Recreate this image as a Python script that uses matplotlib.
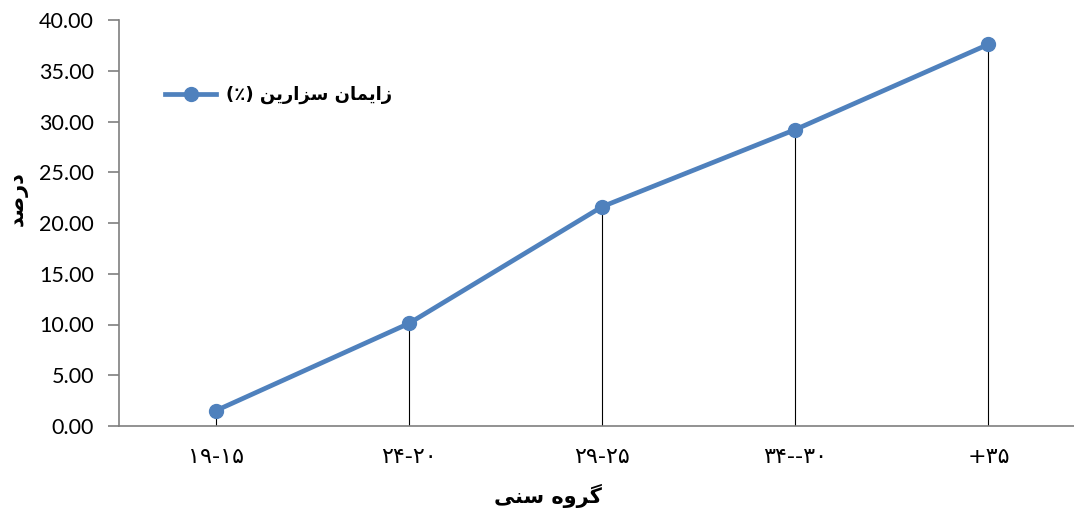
import numpy as np
import matplotlib
matplotlib.use('Agg')
import matplotlib.pyplot as plt

# data
age_groups = ['\u06f1\u06f9-\u06f1\u06f5', '\u06f2\u06f4-\u06f2\u06f0', '\u06f2\u06f9-\u06f2\u06f5',
              '\u06f3\u06f4--\u06f3\u06f0', '+\u06f3\u06f5']
cesarean_pct = [1.5, 10.1, 21.6, 29.2, 37.6]
y_ticks = [0, 5, 10, 15, 20, 25, 30, 35, 40]

# persian text, written as arabic presentation forms in visual (left to right) order
# since matplotlib does no shaping / bidi
def vis(forms):
    return ''.join(reversed(forms))

y_title = vis('\ufea9\ufead\ufebb\ufeaa')                                     # درصد
x_title = vis('\ufeb3\ufee8\ufbfd') + ' ' + vis('\ufb94\ufeae\ufeed\ufee9')   # گروه سنی
series_name = '(\u066a) ' + vis('\ufeb3\ufeb0\ufe8d\ufead\ufef3\ufee6') + ' ' + vis('\ufeaf\ufe8d\ufef3\ufee4\ufe8e\ufee5')  # زایمان سزارین (٪)

plt.rcParams['font.family'] = ['Lato', 'DejaVu Sans']

blue = '#4f81bd'
axis_grey = '#7f7f7f'

fig = plt.figure(figsize=(10.74, 5.16), dpi=100)
ax = fig.add_axes([119 / 1074, 90 / 516, 966 / 1074, 406 / 516])

x = np.arange(len(age_groups))
ax.vlines(x, 0, cesarean_pct, color='black', lw=0.8, zorder=1)
ax.plot(x, cesarean_pct, color=blue, lw=3.4, marker='o', ms=10, label=series_name, zorder=3)

ax.set_xlim(-0.5, len(age_groups) - 0.5)
ax.set_ylim(0, 40)
ax.set_yticks(y_ticks)
ax.set_yticklabels(['%.2f' % v for v in y_ticks], fontsize=15.5)
ax.set_xticks(x)
ax.set_xticklabels(age_groups, fontsize=16, family='DejaVu Sans')

for s in ['top', 'right']:
    ax.spines[s].set_visible(False)
for s in ['left', 'bottom']:
    ax.spines[s].set_color(axis_grey)
    ax.spines[s].set_linewidth(1.2)
ax.tick_params(axis='y', length=8, width=1.2, color=axis_grey, pad=10)
ax.tick_params(axis='x', length=0, pad=15)

ax.set_ylabel(y_title, family='DejaVu Sans', fontweight='bold', fontsize=15)
ax.yaxis.set_label_coords(-0.094, 0.56)
ax.set_xlabel(x_title, family='DejaVu Sans', fontweight='bold', fontsize=15)
ax.xaxis.set_label_coords(0.444, -0.142)

leg = ax.legend(loc='center left', bbox_to_anchor=(0.048, 0.815), frameon=False,
                prop={'family': 'DejaVu Sans', 'weight': 'bold', 'size': 13},
                handlelength=2.8, handletextpad=0.55, borderpad=0, borderaxespad=0)

fig.savefig('out.png', dpi=100)
